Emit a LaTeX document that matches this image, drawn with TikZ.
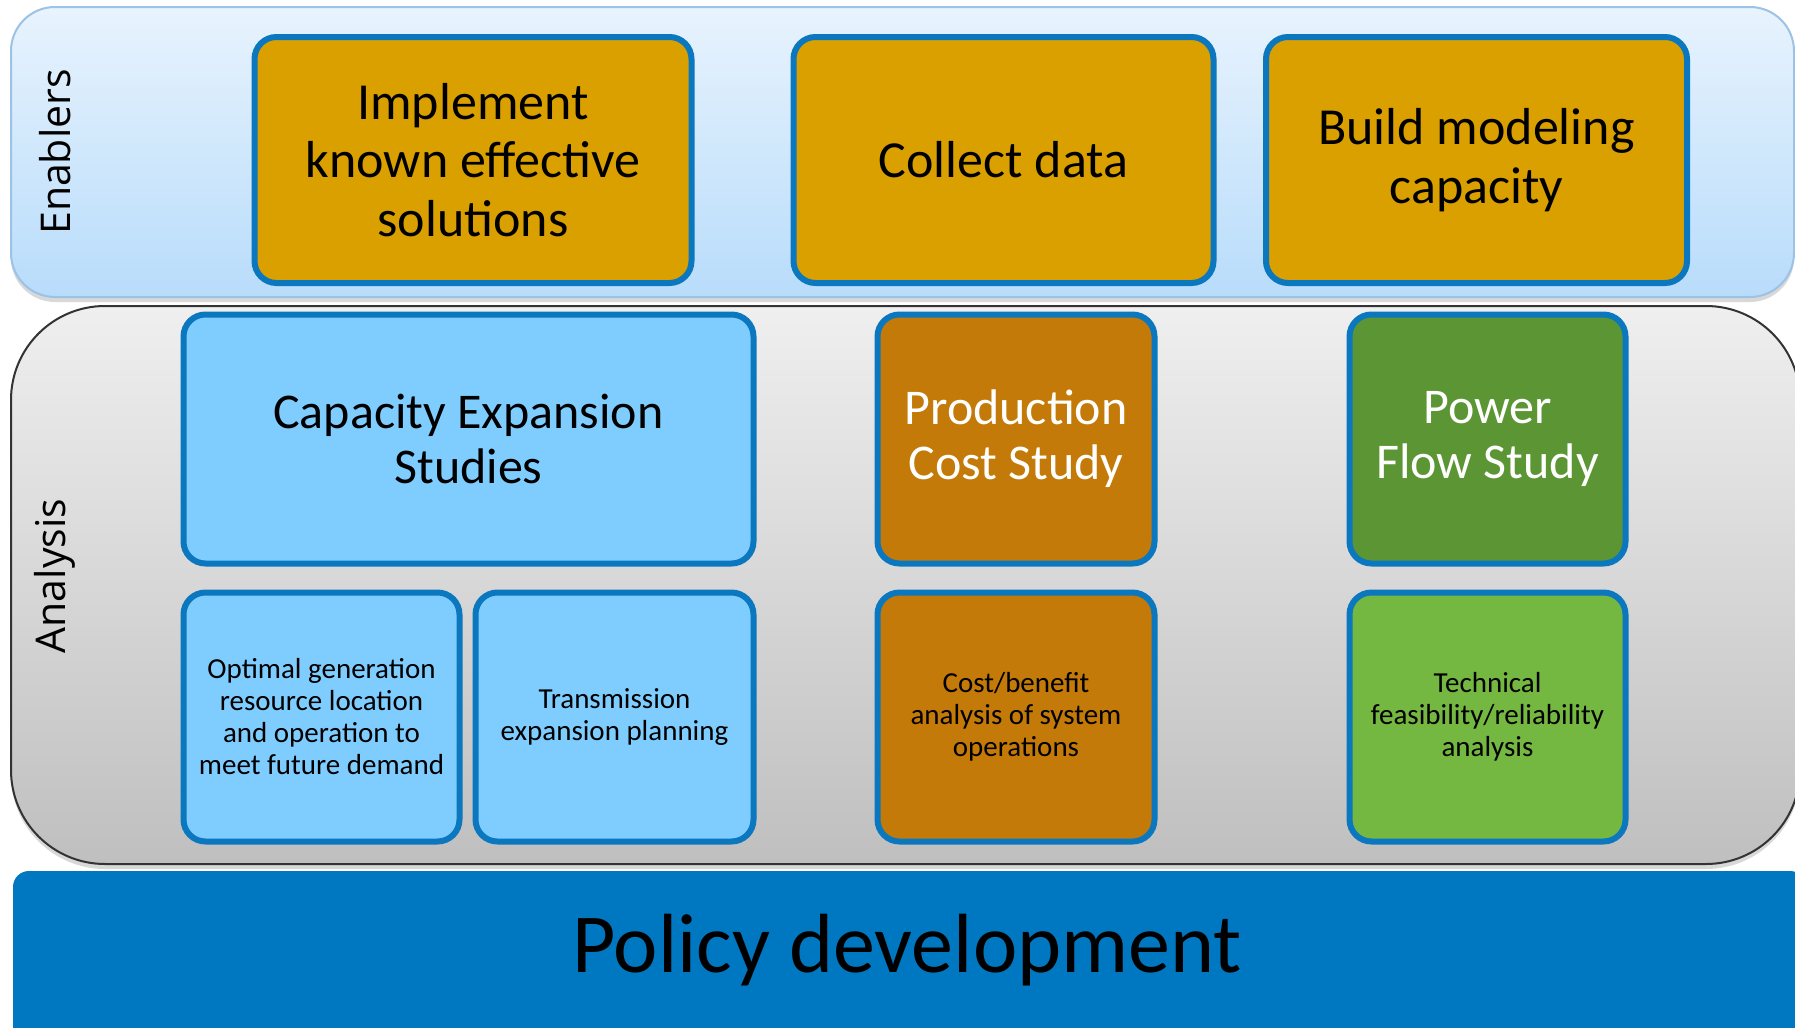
\documentclass[tikz,border=0pt]{standalone}
\usepackage{fontspec}
\setmainfont{Carlito}
\newfontfamily\labelfont{Open Sans}
\usetikzlibrary{shadows}
\definecolor{enTop}{HTML}{E8F3FD}
\definecolor{enBot}{HTML}{B8DCFB}
\definecolor{enBorder}{HTML}{9CC2E5}
\definecolor{goldbox}{HTML}{DAA000}
\definecolor{boxBlue}{HTML}{0B77BF}
\definecolor{lightBlue}{HTML}{7FCDFF}
\definecolor{orangeBrown}{HTML}{C47A08}
\definecolor{darkGreen}{HTML}{5C9634}
\definecolor{lightGreen}{HTML}{74B842}
\definecolor{anTop}{HTML}{EFEFEF}
\definecolor{anBot}{HTML}{BFBFBF}
\definecolor{policyBlue}{HTML}{0078C1}
\tikzset{
  card/.style={draw=boxBlue, line width=3pt, rounded corners=11pt, align=center, inner sep=0pt},
  bigtxt/.style={font=\fontsize{26}{29.2}\selectfont},
  midtxt/.style={font=\fontsize{25}{27.5}\selectfont},
  smalltxt/.style={font=\fontsize{14.5}{16}\selectfont},
  sidelabel/.style={rotate=90, font=\labelfont\fontsize{20.5}{24}\selectfont},
}
\begin{document}
\begin{tikzpicture}[x=0.5pt,y=-0.5pt]
\useasboundingbox (0,0) rectangle (1795,1028);
\clip (0,0) rectangle (1795,1028);
\fill[white] (0,0) rectangle (1795,1028);
% Enablers panel
\draw[enBorder, line width=1pt, top color=enTop, bottom color=enBot, rounded corners=22pt,
  drop shadow={opacity=0.3, shadow xshift=0pt, shadow yshift=-2.5pt}] (11,7) rectangle (1794,297);
% Analysis panel
\draw[black!80, line width=1pt, top color=anTop, bottom color=anBot, rounded corners=47pt,
  drop shadow={opacity=0.3, shadow xshift=0pt, shadow yshift=-2.5pt}] (11,306) rectangle (1800,864);
% Policy band
\fill[policyBlue, rounded corners=8pt] (13,871) rectangle (1806,1045);
\node[font=\fontsize{42}{48}\selectfont] (pol) at (907,950) {Policy development};
% side labels
\node[sidelabel] (enl) at (55,152) {Enablers};
\node[sidelabel] (anl) at (55,576) {Analysis};
% Enablers boxes
\node[card, bigtxt, fill=goldbox, minimum width=218.5pt, minimum height=123pt] (impl) at (473,160)
  {Implement\\known effective\\solutions};
\node[card, bigtxt, fill=goldbox, minimum width=210pt, minimum height=123pt] (collect) at (1003.5,160)
  {Collect data};
\node[card, bigtxt, fill=goldbox, minimum width=210.5pt, minimum height=123pt] (build) at (1476.5,160)
  {Build modeling\\capacity};
% Analysis top row
\node[card, midtxt, fill=lightBlue, minimum width=285pt, minimum height=124.5pt] (cap) at (468.5,439)
  {Capacity Expansion\\Studies};
\node[card, midtxt, fill=orangeBrown, text=white, minimum width=138.5pt, minimum height=124.5pt] (prod) at (1016,439)
  {Production\\Cost Study};
\node[card, midtxt, fill=darkGreen, text=white, minimum width=138pt, minimum height=124.5pt] (power) at (1487.5,439)
  {Power\\Flow Study};
% Analysis bottom row
\node[card, smalltxt, fill=lightBlue, minimum width=138pt, minimum height=124.5pt] (opt) at (321.5,717)
  {Optimal generation\\resource location\\and operation to\\meet future demand};
\node[card, smalltxt, fill=lightBlue, minimum width=139pt, minimum height=124.5pt] (trans) at (614.5,717)
  {Transmission\\expansion planning};
\node[card, smalltxt, fill=orangeBrown, minimum width=138.5pt, minimum height=124.5pt] (cost) at (1016,717)
  {Cost/benefit\\analysis of system\\operations};
\node[card, smalltxt, fill=lightGreen, minimum width=138pt, minimum height=124.5pt] (tech) at (1487.5,717)
  {Technical\\feasibility/reliability\\analysis};
\end{tikzpicture}
\end{document}
